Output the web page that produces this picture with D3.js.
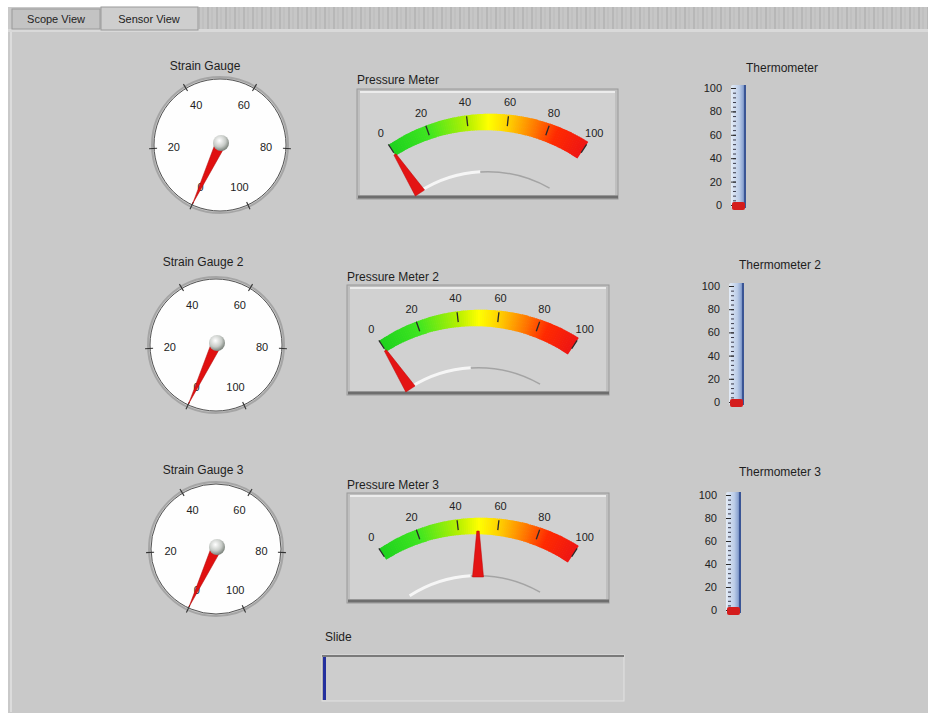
<!DOCTYPE html>
<html>
<head>
<meta charset="utf-8">
<script src="https://cdn.jsdelivr.net/npm/d3@7"></script>
<style>
body { margin: 0; background: #fff; }
svg { display: block; font-family: "Liberation Sans", Arial, sans-serif; }
</style>
</head>
<body>
<svg id="panel" width="931" height="721"></svg>
<script>
var tabLabels = ["Scope View", "Sensor View"];

var gaugeTitles = ["Strain Gauge", "Strain Gauge 2", "Strain Gauge 3"];
var gaugeValues = [0, 0, 0];
var gaugeTicks = [0, 20, 40, 60, 80, 100];

var meterTitles = ["Pressure Meter", "Pressure Meter 2", "Pressure Meter 3"];
var meterValues = [0, 0, 50];
var meterTicks = [0, 20, 40, 60, 80, 100];

var thermoTitles = ["Thermometer", "Thermometer 2", "Thermometer 3"];
var thermoValues = [0, 0, 0];
var thermoTicks = [0, 20, 40, 60, 80, 100];

var slideLabel = "Slide";
var slideValue = 0;

// where each control sits on the front panel
var gaugePos = [
    { cx: 220, cy: 145, r: 66, tx: 205, ty: 70 },
    { cx: 216, cy: 345, r: 66, tx: 203, ty: 266 },
    { cx: 216, cy: 549, r: 65, tx: 203, ty: 474 }
];
var meterPos = [
    { x: 357, y: 89, w: 261, h: 110, ty: 84 },
    { x: 347, y: 285, w: 262, h: 110, ty: 281 },
    { x: 347, y: 493, w: 262, h: 110, ty: 489 }
];
var thermoPos = [
    { x: 731, top: 88, bottom: 205, tx: 782, ty: 72 },
    { x: 729, top: 286, bottom: 402, tx: 780, ty: 269 },
    { x: 726, top: 495, bottom: 610, tx: 780, ty: 476 }
];

var svg = d3.select("#panel");
var rad = Math.PI / 180;

var defs = svg.append("defs");

var knob = defs.append("radialGradient").attr("id", "knob")
    .attr("cx", "40%").attr("cy", "35%").attr("r", "65%");
knob.append("stop").attr("offset", "0%").attr("stop-color", "#ffffff");
knob.append("stop").attr("offset", "60%").attr("stop-color", "#c8ccc8");
knob.append("stop").attr("offset", "100%").attr("stop-color", "#7d847d");

var tube = defs.append("linearGradient").attr("id", "tube");
tube.append("stop").attr("offset", "0%").attr("stop-color", "#e4ecf7");
tube.append("stop").attr("offset", "55%").attr("stop-color", "#bccde8");
tube.append("stop").attr("offset", "80%").attr("stop-color", "#8ea6d2");
tube.append("stop").attr("offset", "100%").attr("stop-color", "#3f5c9e");

var gridPat = defs.append("pattern").attr("id", "tabgrid")
    .attr("patternUnits", "userSpaceOnUse").attr("width", 9).attr("height", 22);
gridPat.append("rect").attr("width", 9).attr("height", 22).attr("fill", "#c6c6c6");
gridPat.append("line").attr("x1", 1).attr("x2", 1).attr("y1", 0).attr("y2", 22)
    .attr("stroke", "#a9a9a9").attr("stroke-width", 1);
gridPat.append("line").attr("x1", 5).attr("x2", 5).attr("y1", 0).attr("y2", 22)
    .attr("stroke", "#b6b6b6").attr("stroke-width", 0.8);

// panel background
svg.append("rect").attr("x", 8).attr("y", 7).attr("width", 920).attr("height", 706)
    .attr("fill", "#c9c9c9");
svg.append("line").attr("x1", 11).attr("x2", 11).attr("y1", 30).attr("y2", 712)
    .attr("stroke", "#dcdcdc").attr("stroke-width", 2);

// tab bar
svg.append("rect").attr("x", 199).attr("y", 7).attr("width", 729).attr("height", 22)
    .attr("fill", "url(#tabgrid)");
svg.append("rect").attr("x", 8).attr("y", 29).attr("width", 920).attr("height", 3)
    .attr("fill", "#d9d9d9");
var tabs = svg.append("g").selectAll("g")
    .data(tabLabels)
    .enter().append("g");
tabs.append("rect")
    .attr("x", function(d, i) { return i == 0 ? 12 : 101; })
    .attr("y", function(d, i) { return i == 0 ? 9 : 7; })
    .attr("width", function(d, i) { return i == 0 ? 88 : 97; })
    .attr("height", function(d, i) { return i == 0 ? 20 : 23; })
    .attr("fill", function(d, i) { return i == 0 ? "#c3c3c3" : "#cecece"; })
    .attr("stroke", "#9a9a9a");
tabs.append("text")
    .attr("x", function(d, i) { return i == 0 ? 56 : 149; })
    .attr("y", 23)
    .attr("text-anchor", "middle")
    .style("font-size", "11px")
    .attr("fill", "#222")
    .text(function(d) { return d; });

// strain gauges
var gaugeAngle = d3.scaleLinear().domain([0, 100]).range([-155, 155]);

gaugePos.forEach(function(p, i) {
    var g = svg.append("g");
    g.append("text").attr("x", p.tx).attr("y", p.ty)
        .attr("text-anchor", "middle").style("font-size", "12px").attr("fill", "#1e1e1e")
        .text(gaugeTitles[i]);
    g.append("circle").attr("cx", p.cx).attr("cy", p.cy).attr("r", p.r + 2)
        .attr("fill", "none").attr("stroke", "#9c9c9c").attr("stroke-width", 2).attr("opacity", 0.8);
    g.append("circle").attr("cx", p.cx).attr("cy", p.cy).attr("r", p.r)
        .attr("fill", "#fefefe").attr("stroke", "#555").attr("stroke-width", 1);

    g.selectAll("line.tick")
        .data(gaugeTicks)
        .enter().append("line")
        .attr("x1", function(d) { return p.cx + (p.r - 3) * Math.sin(gaugeAngle(d) * rad); })
        .attr("y1", function(d) { return p.cy - (p.r - 3) * Math.cos(gaugeAngle(d) * rad); })
        .attr("x2", function(d) { return p.cx + (p.r + 5) * Math.sin(gaugeAngle(d) * rad); })
        .attr("y2", function(d) { return p.cy - (p.r + 5) * Math.cos(gaugeAngle(d) * rad); })
        .attr("stroke", "#333").attr("stroke-width", 1.1);

    g.selectAll("text.lbl")
        .data(gaugeTicks)
        .enter().append("text")
        .attr("x", function(d) { return p.cx + p.r * 0.7 * Math.sin(gaugeAngle(d) * rad); })
        .attr("y", function(d) { return p.cy - p.r * 0.7 * Math.cos(gaugeAngle(d) * rad) + 4; })
        .attr("text-anchor", "middle")
        .style("font-size", "11px")
        .attr("fill", "#222")
        .text(function(d) { return d; });

    var a = gaugeAngle(gaugeValues[i]) * rad;
    var len = p.r - 1, hw = 5;
    var pts = [
        [p.cx + len * Math.sin(a), p.cy - len * Math.cos(a)],
        [p.cx + hw * Math.cos(a), p.cy + hw * Math.sin(a)],
        [p.cx - hw * Math.cos(a), p.cy - hw * Math.sin(a)]
    ];
    g.append("path").attr("d", d3.line()(pts) + "Z")
        .attr("fill", "#e01010").attr("stroke", "#a00").attr("stroke-width", 0.5);
    g.append("circle").attr("cx", p.cx + 1).attr("cy", p.cy - 2).attr("r", 8)
        .attr("fill", "url(#knob)");
});

// pressure meters
var meterAngle = d3.scaleLinear().domain([0, 100]).range([-33, 33]);
var bandColor = d3.scaleLinear()
    .domain([0, 20, 40, 50, 60, 72, 84, 100])
    .range(["#1ed21e", "#40e620", "#b8f000", "#ffff00", "#ffd000", "#ff8000", "#ff2a00", "#ee1414"]);
var bandSteps = d3.range(0, 100, 1);

meterPos.forEach(function(p, i) {
    var g = svg.append("g");
    var cx = p.x + p.w / 2, cy = p.y + 208, R = 175;

    g.append("text").attr("x", p.x).attr("y", p.ty)
        .style("font-size", "12px").attr("fill", "#1e1e1e")
        .text(meterTitles[i]);

    g.append("rect").attr("x", p.x).attr("y", p.y).attr("width", p.w).attr("height", p.h)
        .attr("fill", "#bfbfbf").attr("stroke", "#9a9a9a");
    g.append("rect").attr("x", p.x + 3).attr("y", p.y + 3).attr("width", p.w - 6).attr("height", p.h - 7)
        .attr("fill", "#d1d1d1");
    g.append("line").attr("x1", p.x + 3).attr("x2", p.x + p.w - 3)
        .attr("y1", p.y + 3).attr("y2", p.y + 3).attr("stroke", "#ececec").attr("stroke-width", 2);
    g.append("line").attr("x1", p.x + 1).attr("x2", p.x + p.w)
        .attr("y1", p.y + p.h - 2).attr("y2", p.y + p.h - 2).attr("stroke", "#6e6e6e").attr("stroke-width", 3);

    var face = g.append("g").attr("transform", "translate(" + cx + "," + cy + ")");

    face.selectAll("path.band")
        .data(bandSteps)
        .enter().append("path")
        .attr("d", function(d) {
            var w = 13 + 7 * d / 100;
            return d3.arc()({
                innerRadius: R - w / 2, outerRadius: R + w / 2,
                startAngle: meterAngle(d) * rad, endAngle: meterAngle(Math.min(d + 1.3, 100)) * rad
            });
        })
        .attr("fill", function(d) { return bandColor(d); });

    face.selectAll("line.tick")
        .data(meterTicks)
        .enter().append("line")
        .attr("x1", function(d) { return (R - 3) * Math.sin(meterAngle(d) * rad); })
        .attr("y1", function(d) { return -(R - 3) * Math.cos(meterAngle(d) * rad); })
        .attr("x2", function(d) { return (R + 7) * Math.sin(meterAngle(d) * rad); })
        .attr("y2", function(d) { return -(R + 7) * Math.cos(meterAngle(d) * rad); })
        .attr("stroke", "#2a2a2a").attr("stroke-width", 1.3);

    face.selectAll("text.lbl")
        .data(meterTicks)
        .enter().append("text")
        .attr("x", function(d) { return (R + 21) * Math.sin(meterAngle(d) * rad); })
        .attr("y", function(d) { return -(R + 21) * Math.cos(meterAngle(d) * rad) + 4; })
        .attr("text-anchor", "middle")
        .style("font-size", "11px")
        .attr("fill", "#222")
        .text(function(d) { return d; });

    // lower edge of the dial window
    face.append("path")
        .attr("d", d3.arc()({ innerRadius: 124, outerRadius: 127,
            startAngle: meterAngle(0) * rad, endAngle: meterAngle(45) * rad }))
        .attr("fill", "#f6f6f6");
    face.append("path")
        .attr("d", d3.arc()({ innerRadius: 124.5, outerRadius: 126,
            startAngle: meterAngle(45) * rad, endAngle: meterAngle(95) * rad }))
        .attr("fill", "#a4a4a4");

    var a = meterAngle(meterValues[i]) * rad;
    var r0 = 124, r1 = 170;
    var pts = [
        [r0 * Math.sin(a) + 5.5 * Math.cos(a), -r0 * Math.cos(a) + 5.5 * Math.sin(a)],
        [r1 * Math.sin(a) + 1.2 * Math.cos(a), -r1 * Math.cos(a) + 1.2 * Math.sin(a)],
        [r1 * Math.sin(a) - 1.2 * Math.cos(a), -r1 * Math.cos(a) - 1.2 * Math.sin(a)],
        [r0 * Math.sin(a) - 5.5 * Math.cos(a), -r0 * Math.cos(a) - 5.5 * Math.sin(a)]
    ];
    face.append("path").attr("d", d3.line()(pts) + "Z")
        .attr("fill", "#e41414").attr("stroke", "#b00").attr("stroke-width", 0.5);
});

// thermometers
thermoPos.forEach(function(p, i) {
    var g = svg.append("g");
    var y = d3.scaleLinear().domain([0, 100]).range([p.bottom, p.top]);
    var tw = 15;

    g.append("text").attr("x", p.tx).attr("y", p.ty)
        .attr("text-anchor", "middle").style("font-size", "12px").attr("fill", "#1e1e1e")
        .text(thermoTitles[i]);

    g.append("rect").attr("x", p.x).attr("y", p.top - 3).attr("width", tw).attr("height", p.bottom - p.top + 6)
        .attr("fill", "url(#tube)").attr("rx", 2);
    g.append("line").attr("x1", p.x + tw - 1).attr("x2", p.x + tw - 1)
        .attr("y1", p.top - 3).attr("y2", p.bottom + 3)
        .attr("stroke", "#3a5595").attr("stroke-width", 2);

    g.append("g")
        .attr("transform", "translate(" + (p.x + 5) + ",0)")
        .call(d3.axisLeft(y).tickValues(d3.range(0, 101, 4)).tickSize(3).tickFormat(""))
        .call(function(ax) {
            ax.select(".domain").remove();
            ax.selectAll("line").attr("stroke", "#3a3a4a");
        });
    g.append("g")
        .attr("transform", "translate(" + (p.x + 5) + ",0)")
        .call(d3.axisLeft(y).tickValues(thermoTicks).tickSize(5).tickPadding(9))
        .call(function(ax) {
            ax.select(".domain").remove();
            ax.selectAll("line").attr("stroke", "#2a2a2a");
            ax.selectAll("text").style("font-size", "11px")
                .style("font-family", "'Liberation Sans', Arial, sans-serif").attr("fill", "#222");
        });

    var top = Math.min(y(thermoValues[i]), p.bottom - 2);
    g.append("rect").attr("x", p.x + 1).attr("y", top - 1)
        .attr("width", tw - 2).attr("height", p.bottom - top + 6)
        .attr("fill", "#d41c1c").attr("rx", 2);
});

// slide
var slideX = d3.scaleLinear().domain([0, 100]).range([326, 620]);
svg.append("text").attr("x", 325).attr("y", 641)
    .style("font-size", "12px").attr("fill", "#1e1e1e").text(slideLabel);
svg.append("rect").attr("x", 322).attr("y", 655).attr("width", 302).attr("height", 46)
    .attr("fill", "#cdcdcd").attr("stroke", "#e2e2e2");
svg.append("line").attr("x1", 322).attr("x2", 624).attr("y1", 656).attr("y2", 656)
    .attr("stroke", "#7a7a7a").attr("stroke-width", 2);
svg.append("line").attr("x1", 323).attr("x2", 323).attr("y1", 656).attr("y2", 700)
    .attr("stroke", "#8a8a8a").attr("stroke-width", 1);
svg.append("rect").attr("x", 323).attr("y", 657)
    .attr("width", slideX(slideValue) - 323).attr("height", 43)
    .attr("fill", "#24309e");
</script>
</body>
</html>
